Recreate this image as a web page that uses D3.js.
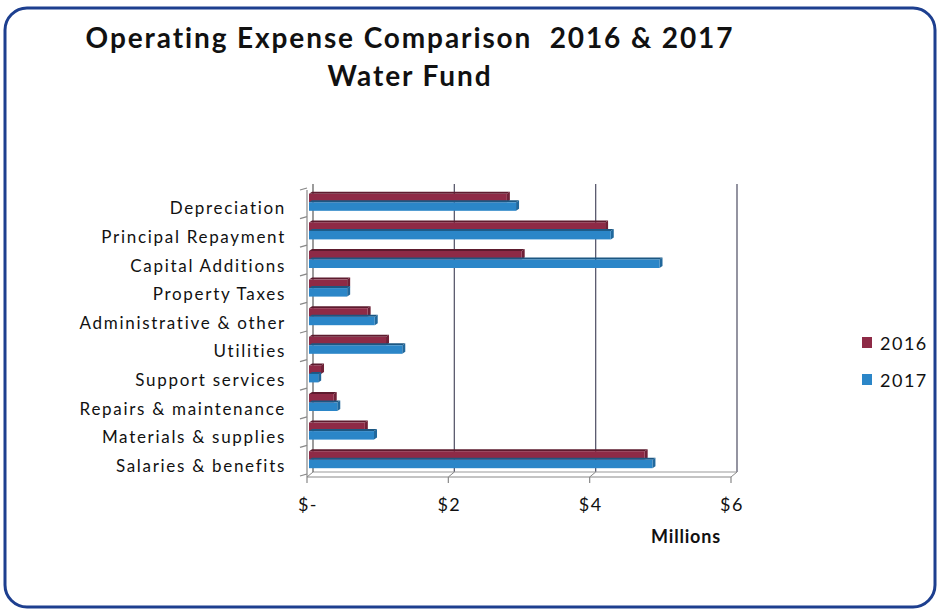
<!DOCTYPE html>
<html><head><meta charset="utf-8">
<script src="https://cdn.jsdelivr.net/npm/d3@7"></script>
<style>
html,body{margin:0;padding:0;background:#fff;}
svg text{font-family:Lato,"Open Sans",sans-serif;}
</style></head>
<body><svg id="c" width="939" height="612"></svg>
<script>
const categories = ["Depreciation","Principal Repayment","Capital Additions","Property Taxes","Administrative & other","Utilities","Support services","Repairs & maintenance","Materials & supplies","Salaries & benefits"];
const series2016 = [2.80,4.19,3.01,0.54,0.83,1.09,0.17,0.35,0.79,4.75];
const series2017 = [2.93,4.27,4.96,0.54,0.93,1.32,0.13,0.40,0.92,4.86];
const seriesNames = ["2016","2017"];
const seriesColors = ["#8e2a46","#2b86c8"];
const tickValues = [0,2,4,6];
const tickLabels = ["$-","$2","$4","$6"];

const svg = d3.select("#c");
// frame
svg.append("rect").attr("x",5).attr("y",8).attr("width",930).attr("height",599)
  .attr("rx",22).attr("fill","#fff").attr("stroke","#1d3f8f").attr("stroke-width",3);

// title
svg.append("text").attr("x",410).attr("y",48).attr("text-anchor","middle")
  .attr("font-size",28).attr("font-weight","bold").attr("letter-spacing","1.9px").attr("fill","#111")
  .text("Operating Expense Comparison  2016 & 2017").style("white-space","pre");
svg.append("text").attr("x",410).attr("y",86).attr("text-anchor","middle")
  .attr("font-size",28).attr("font-weight","bold").attr("letter-spacing","1.9px").attr("fill","#111").text("Water Fund");

const x = d3.scaleLinear().domain([0,6]).range([309,733]);
const y = d3.scaleBand().domain(categories).range([188,474]);
const depth = 4;

// gridlines (back wall)
const g = svg.append("g");
g.selectAll("line.grid").data(tickValues.slice(1)).join("line")
  .attr("x1",d=>x(d)+depth).attr("x2",d=>x(d)+depth)
  .attr("y1",184).attr("y2",472)
  .attr("stroke","#5a5a6e").attr("stroke-width",1.3);
// back floor line
g.append("line").attr("x1",x(0)+depth).attr("x2",x(6)+depth).attr("y1",472).attr("y2",472)
  .attr("stroke","#999").attr("stroke-width",1);
// front floor line
g.append("line").attr("x1",x(0)-depth/2).attr("x2",x(6)-depth/2).attr("y1",477).attr("y2",477)
  .attr("stroke","#888").attr("stroke-width",1.2);
g.selectAll("line.fx").data(tickValues).join("line")
  .attr("x1",d=>x(d)-depth/2).attr("x2",d=>x(d)+depth).attr("y1",477).attr("y2",472)
  .attr("stroke","#888").attr("stroke-width",1);
g.selectAll("line.ft").data(tickValues).join("line")
  .attr("x1",d=>x(d)-depth/2).attr("x2",d=>x(d)-depth/2).attr("y1",477).attr("y2",483)
  .attr("stroke","#888").attr("stroke-width",1.2);
// left axis (back + front)
g.append("line").attr("x1",x(0)+depth).attr("x2",x(0)+depth).attr("y1",184).attr("y2",472)
  .attr("stroke","#666").attr("stroke-width",1.3);
g.append("line").attr("x1",x(0)-depth/2).attr("x2",x(0)-depth/2).attr("y1",190).attr("y2",477)
  .attr("stroke","#888").attr("stroke-width",1.2);
const bounds = categories.map(c=>y(c)).concat([y.range()[1]]);
g.selectAll("line.yt").data(bounds).join("line")
  .attr("x1",x(0)-depth/2-7).attr("x2",x(0)-depth/2).attr("y1",d=>d+2).attr("y2",d=>d)
  .attr("stroke","#888").attr("stroke-width",1.2);

// bars
const barH = 8.5;
const data = [series2016, series2017];
data.forEach((vals,si)=>{
  const col = d3.color(seriesColors[si]);
  const gg = svg.append("g");
  const yy = (c)=> y(c)+y.bandwidth()/2 - barH + si*barH;
  gg.selectAll("path.top").data(categories).join("path")
    .attr("d",(c,i)=>{const x0=x(0), x1=x(vals[i]), t=yy(c);
      return `M${x0},${t}L${x0+3},${t-2}L${x1+3},${t-2}L${x1},${t}Z`;})
    .attr("fill",col.darker(1.2));
  gg.selectAll("path.side").data(categories).join("path")
    .attr("d",(c,i)=>{const x1=x(vals[i]), t=yy(c);
      return `M${x1},${t}L${x1+3},${t-2}L${x1+3},${t+barH-2}L${x1},${t+barH}Z`;})
    .attr("fill",col.darker(0.7));
  gg.selectAll("rect").data(categories).join("rect")
    .attr("x",x(0)).attr("y",c=>yy(c))
    .attr("width",(c,i)=>x(vals[i])-x(0)).attr("height",barH)
    .attr("fill",seriesColors[si]);
});

// category labels
svg.append("g").selectAll("text").data(categories).join("text")
  .attr("x",286).attr("y",c=>y(c)+y.bandwidth()/2+12)
  .attr("text-anchor","end").attr("font-size",17).attr("letter-spacing","1.7px")
  .attr("fill","#111").text(c=>c);

// x tick labels
svg.append("g").selectAll("text").data(tickValues).join("text")
  .attr("x",(d,i)=>x(d)-1).attr("y",511).attr("text-anchor","middle")
  .attr("font-size",18).attr("letter-spacing","1.5px").attr("fill","#111")
  .text((d,i)=>tickLabels[i]);
svg.append("text").attr("x",686).attr("y",543).attr("text-anchor","middle")
  .attr("font-size",18).attr("font-weight","bold").attr("letter-spacing","0.8px").attr("fill","#111").text("Millions");

// legend
const lg = svg.append("g");
seriesNames.forEach((n,i)=>{
  lg.append("rect").attr("x",862).attr("y",337+i*37).attr("width",10).attr("height",11)
    .attr("fill",seriesColors[i]);
  lg.append("text").attr("x",880).attr("y",350+i*37).attr("font-size",18)
    .attr("letter-spacing","1.5px").attr("fill","#111").text(n);
});
</script></body></html>
